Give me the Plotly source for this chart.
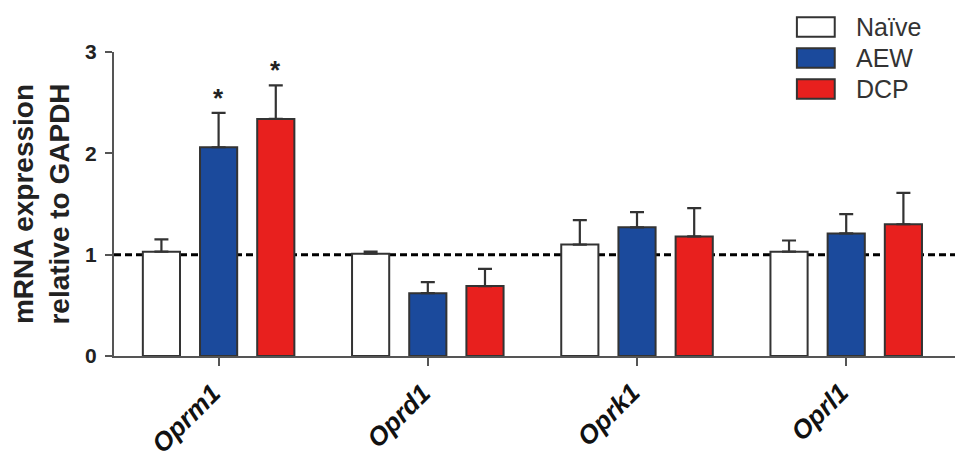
import plotly.graph_objects as go

genes = ["Oprm1", "Oprd1", "Oprk1", "Oprl1"]
groups = ["Naïve", "AEW", "DCP"]
naive_mean = [1.03, 1.01, 1.10, 1.03]
naive_err = [0.12, 0.02, 0.24, 0.11]
aew_mean = [2.06, 0.62, 1.27, 1.21]
aew_err = [0.34, 0.11, 0.15, 0.19]
dcp_mean = [2.34, 0.69, 1.18, 1.30]
dcp_err = [0.33, 0.17, 0.28, 0.31]
colors = ["#ffffff", "#1b4a9c", "#e8201e"]
y_ticks = [0, 1, 2, 3]
sig_marks = [("AEW", "Oprm1"), ("DCP", "Oprm1")]

means = [naive_mean, aew_mean, dcp_mean]
errs = [naive_err, aew_err, dcp_err]

FONT = "Arial, Liberation Sans, Helvetica, sans-serif"
EDGE = "#333333"

fig = go.Figure()
for name, m, e, c in zip(groups, means, errs, colors):
    fig.add_trace(go.Bar(
        x=genes, y=m, name=name,
        marker=dict(color=c, line=dict(color=EDGE, width=2)),
        error_y=dict(type="data", array=e, symmetric=False, arrayminus=[0]*len(e),
                     color=EDGE, thickness=2.2, width=7),
        showlegend=False,
    ))

# reference line at 1
fig.add_shape(type="line", xref="paper", x0=0, x1=1, yref="y", y0=1, y1=1,
              line=dict(color="black", width=3, dash="7px,4px"), layer="below")

# significance asterisks
offs = {g: (i - 1) for i, g in enumerate(groups)}
for g, gene in sig_marks:
    gi = groups.index(g)
    ci = genes.index(gene)
    top = means[gi][ci] + errs[gi][ci]
    fig.add_annotation(x=ci + offs[g] * 0.2733, y=top, xref="x", yref="y",
                       text="*", showarrow=False, yanchor="bottom",
                       font=dict(family=FONT, size=26, color="#222", weight="bold"),
                       yshift=-2)

# rotated category labels
for g in genes:
    fig.add_annotation(x=g, xref="x", y=-0.062, yref="paper", text=g,
                       textangle=-45, showarrow=False, xanchor="right", yanchor="top",
                       xshift=11,
                       font=dict(family=FONT, size=26, color="#111",
                                 weight="bold", style="italic"))

# custom legend
leg_y = [1.082, 0.980, 0.878]
for name, c, yc in zip(groups, colors, leg_y):
    fig.add_shape(type="rect", xref="paper", yref="paper",
                  x0=0.812, x1=0.857, y0=yc - 0.032, y1=yc + 0.032,
                  fillcolor=c, line=dict(color=EDGE, width=2))
    fig.add_annotation(xref="paper", yref="paper", x=0.880, y=yc, text=name,
                       showarrow=False, xanchor="left", yanchor="middle",
                       font=dict(family=FONT, size=25, color="#333"))

# page body has an 8px margin, so the figure is offset; compensate
fig.update_layout(
    width=961, height=463,
    margin=dict(l=106, r=14, t=44, b=115, autoexpand=False),
    paper_bgcolor="white", plot_bgcolor="white",
    barmode="group", bargap=0.18, bargroupgap=0.35,
    font=dict(family=FONT, color="#222"),
    showlegend=False,
)
fig.update_xaxes(
    range=[-0.5, 3.52], showline=True, linecolor="#555", linewidth=2,
    ticks="outside", ticklen=8, tickwidth=2, tickcolor="#555",
    automargin=False, showticklabels=False,
    tickvals=genes,
    showgrid=False, zeroline=False,
)
fig.update_yaxes(
    range=[0, 3], showline=True, linecolor="#555", linewidth=2,
    ticks="outside", ticklen=7, tickwidth=2, tickcolor="#555",
    tickvals=y_ticks, ticktext=[str(v) for v in y_ticks], automargin=False,
    ticklabelstandoff=4,
    tickfont=dict(family=FONT, size=21, color="#222", weight="bold"),
    title=dict(text="mRNA expression<br>relative to GAPDH",
               font=dict(family=FONT, size=28, color="#222", weight="bold"), standoff=10),
    showgrid=False, zeroline=False,
)

fig.write_html("out.html")
